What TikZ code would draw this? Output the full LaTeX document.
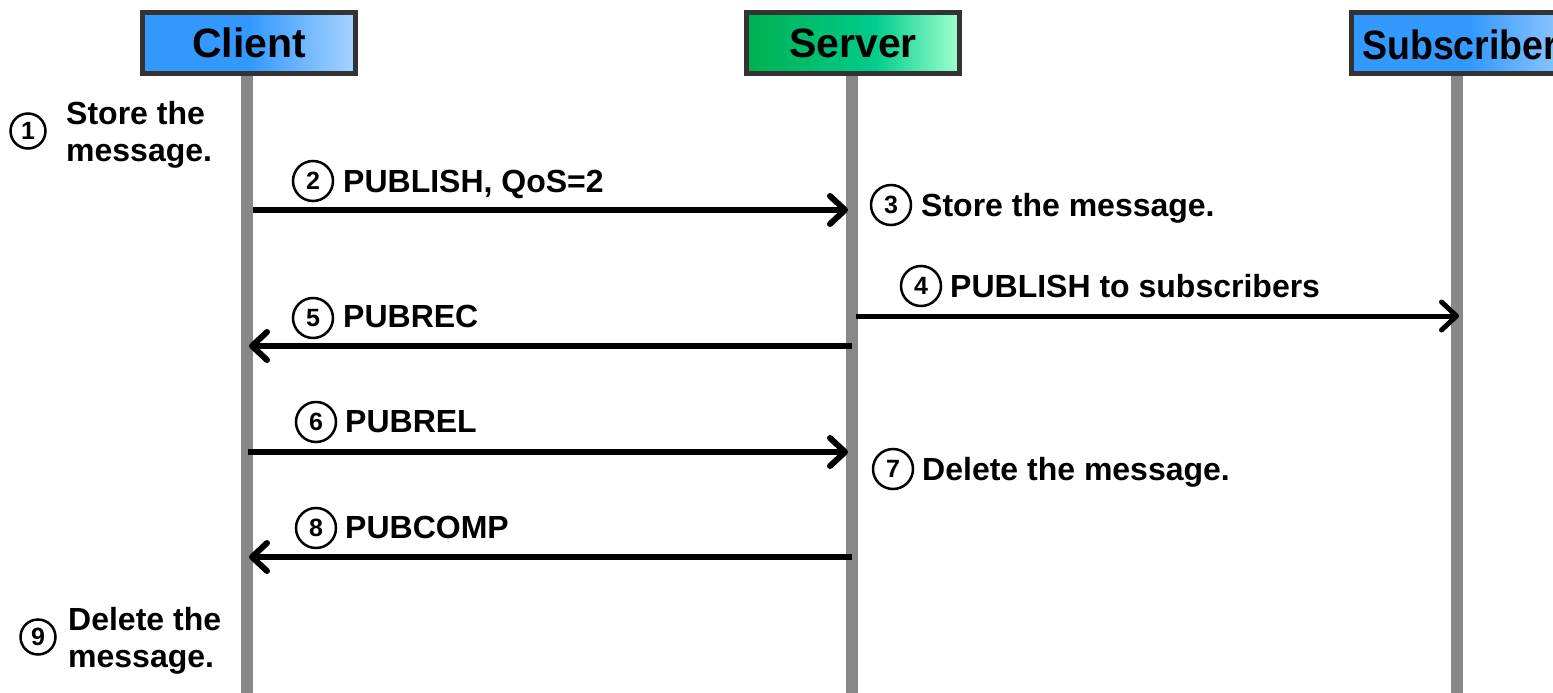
\documentclass[tikz,border=0pt]{standalone}
\usepackage{fontspec}
\usepackage{graphicx}
\setmainfont{Liberation Sans}
\usetikzlibrary{arrows.meta}
\definecolor{cliA}{RGB}{51,153,255}
\definecolor{cliB}{RGB}{168,212,255}
\definecolor{srvA}{RGB}{0,176,80}
\definecolor{srvM}{RGB}{0,204,140}
\definecolor{srvB}{RGB}{160,255,208}
\definecolor{headborder}{RGB}{51,51,51}
\definecolor{lifegray}{RGB}{136,136,136}
\pgfdeclarehorizontalshading{clientshade}{100bp}{color(0bp)=(cliA); color(25bp)=(cliA); color(50bp)=(cliA); color(75bp)=(cliB); color(100bp)=(cliB)}
\pgfdeclarehorizontalshading{servershade}{100bp}{color(0bp)=(srvA); color(25bp)=(srvA); color(55bp)=(srvM); color(75bp)=(srvB); color(100bp)=(srvB)}
\tikzset{
  head/.style={draw=headborder, line width=5pt, inner sep=0pt, minimum height=61pt,
    font=\bfseries\fontsize{41}{41}\selectfont},
  life/.style={draw=lifegray, line width=12pt},
  msg/.style={draw=black, line width=6pt, -{Straight Barb[length=15pt,width=28pt,round]}},
  msgthin/.style={msg, line width=5pt},
  num/.style={circle, draw=black, line width=2.5pt, minimum size=40pt, inner sep=0pt,
    font=\bfseries\fontsize{25}{25}\selectfont},
  numsmall/.style={num, minimum size=35pt},
  lbl/.style={anchor=base west, inner sep=0pt, font=\bfseries\fontsize{32}{37}\selectfont},
}
\begin{document}
\begin{tikzpicture}[x=1pt,y=-1pt]
\clip (0,0) rectangle (1553,693);
\fill[white] (0,0) rectangle (1553,693);
% lifelines
\coordinate (ctop) at (247,76);  \coordinate (cbot) at (247,693);
\coordinate (stop) at (852,76);  \coordinate (sbot) at (852,693);
\coordinate (btop) at (1457,76); \coordinate (bbot) at (1457,693);
\draw[life] (ctop) -- (cbot);
\draw[life] (stop) -- (sbot);
\draw[life] (btop) -- (bbot);
% headers
\node[head, shading=clientshade, minimum width=213pt] (client) at (249,43) {Client};
\node[head, shading=servershade, minimum width=213pt] (server) at (853,43) {Server};
\node[head, shading=clientshade, minimum width=237pt] (subscriber) at (1470,43) {};
\node[anchor=west, inner sep=0pt, font=\bfseries\fontsize{41}{41}\selectfont] (subtext) at (1362,45) {\scalebox{0.915}[1]{Subscriber}};
% step 1
\node[numsmall] (n1) at (28,131) {1};
\node[lbl] (t1a) at (66,124) {Store the};
\node[lbl] (t1b) at (66,161) {message.};
% step 2
\coordinate (a2s) at (253,210); \coordinate (a2e) at (848,210);
\draw[msg] (a2s) -- (a2e);
\node[num] (n2) at (313,181) {2};
\node[lbl] (t2) at (343,192) {PUBLISH, QoS=2};
% step 3
\node[num] (n3) at (891,205) {3};
\node[lbl] (t3) at (921,216) {Store the message.};
% step 4
\coordinate (a4s) at (856,316); \coordinate (a4e) at (1459,316);
\draw[msgthin] (a4s) -- (a4e);
\node[num] (n4) at (921,286) {4};
\node[lbl] (t4) at (950,297) {PUBLISH to subscribers};
% step 5
\coordinate (a5s) at (852,346); \coordinate (a5e) at (249,346);
\draw[msg] (a5s) -- (a5e);
\node[num] (n5) at (313,318) {5};
\node[lbl] (t5) at (343,327) {PUBREC};
% step 6
\coordinate (a6s) at (248,452); \coordinate (a6e) at (848,452);
\draw[msg] (a6s) -- (a6e);
\node[num] (n6) at (316,422) {6};
\node[lbl] (t6) at (345,432) {PUBREL};
% step 7
\node[num] (n7) at (893,469) {7};
\node[lbl] (t7) at (922,480) {Delete the message.};
% step 8
\coordinate (a8s) at (852,557); \coordinate (a8e) at (249,557);
\draw[msg] (a8s) -- (a8e);
\node[num] (n8) at (316,528) {8};
\node[lbl] (t8) at (345,538) {PUBCOMP};
% step 9
\node[numsmall] (n9) at (38,637) {9};
\node[lbl] (t9a) at (68,630) {Delete the};
\node[lbl] (t9b) at (68,667) {message.};
\end{tikzpicture}
\end{document}
